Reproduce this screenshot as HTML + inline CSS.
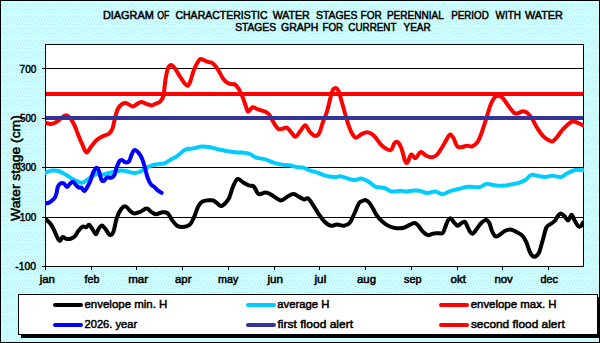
<!DOCTYPE html>
<html><head><meta charset="utf-8"><style>
html,body{margin:0;padding:0;background:#ccffff;}
svg{display:block;font-family:"Liberation Sans", sans-serif;}
</style></head><body>
<svg width="600" height="343" viewBox="0 0 600 343">
<defs><pattern id="dots" x="2" y="2" width="12" height="12" patternUnits="userSpaceOnUse"><rect width="12" height="12" fill="#ccffff"/><rect x="2" y="2" width="1" height="1" fill="#bce5ed"/><rect x="5" y="2" width="1" height="1" fill="#bce5ed"/><rect x="8" y="2" width="1" height="1" fill="#bce5ed"/><rect x="11" y="2" width="1" height="1" fill="#bce5ed"/><rect x="0" y="4" width="1" height="1" fill="#bce5ed"/><rect x="4" y="4" width="1" height="1" fill="#bce5ed"/><rect x="9" y="4" width="1" height="1" fill="#bce5ed"/><rect x="6" y="5" width="1" height="1" fill="#bce5ed"/><rect x="3" y="6" width="1" height="1" fill="#bce5ed"/><rect x="1" y="7" width="1" height="1" fill="#bce5ed"/><rect x="7" y="7" width="1" height="1" fill="#bce5ed"/><rect x="10" y="7" width="1" height="1" fill="#bce5ed"/><rect x="5" y="8" width="1" height="1" fill="#bce5ed"/><rect x="8" y="9" width="1" height="1" fill="#bce5ed"/><rect x="2" y="10" width="1" height="1" fill="#bce5ed"/><rect x="5" y="10" width="1" height="1" fill="#bce5ed"/><rect x="11" y="10" width="1" height="1" fill="#bce5ed"/></pattern></defs>
<rect x="0" y="0" width="600" height="343" fill="url(#dots)"/>
<rect x="0.5" y="0.5" width="599" height="342" fill="none" stroke="#000" stroke-width="1"/>
<rect x="45.5" y="44.5" width="538" height="222" fill="#fff" stroke="#000" stroke-width="1"/>
<line x1="45" y1="68.5" x2="584" y2="68.5" stroke="#000" stroke-width="1"/>
<line x1="45" y1="118.5" x2="584" y2="118.5" stroke="#000" stroke-width="1"/>
<line x1="45" y1="167.5" x2="584" y2="167.5" stroke="#000" stroke-width="1"/>
<line x1="45" y1="217.5" x2="584" y2="217.5" stroke="#000" stroke-width="1"/>
<line x1="42" y1="68.5" x2="45" y2="68.5" stroke="#000" stroke-width="1"/>
<line x1="42" y1="118.5" x2="45" y2="118.5" stroke="#000" stroke-width="1"/>
<line x1="42" y1="167.5" x2="45" y2="167.5" stroke="#000" stroke-width="1"/>
<line x1="42" y1="217.5" x2="45" y2="217.5" stroke="#000" stroke-width="1"/>
<line x1="42" y1="266.5" x2="45" y2="266.5" stroke="#000" stroke-width="1"/>
<line x1="45.5" y1="266" x2="45.5" y2="270" stroke="#000" stroke-width="1"/>
<line x1="91.5" y1="266" x2="91.5" y2="270" stroke="#000" stroke-width="1"/>
<line x1="136.5" y1="266" x2="136.5" y2="270" stroke="#000" stroke-width="1"/>
<line x1="182.5" y1="266" x2="182.5" y2="270" stroke="#000" stroke-width="1"/>
<line x1="228.5" y1="266" x2="228.5" y2="270" stroke="#000" stroke-width="1"/>
<line x1="274.5" y1="266" x2="274.5" y2="270" stroke="#000" stroke-width="1"/>
<line x1="319.5" y1="266" x2="319.5" y2="270" stroke="#000" stroke-width="1"/>
<line x1="365.5" y1="266" x2="365.5" y2="270" stroke="#000" stroke-width="1"/>
<line x1="411.5" y1="266" x2="411.5" y2="270" stroke="#000" stroke-width="1"/>
<line x1="457.5" y1="266" x2="457.5" y2="270" stroke="#000" stroke-width="1"/>
<line x1="502.5" y1="266" x2="502.5" y2="270" stroke="#000" stroke-width="1"/>
<line x1="548.5" y1="266" x2="548.5" y2="270" stroke="#000" stroke-width="1"/>
<clipPath id="pc"><rect x="45" y="44" width="539" height="223"/></clipPath>
<g clip-path="url(#pc)" fill="none" stroke-linejoin="round" stroke-linecap="round">
<path d="M45.5,172.7 C46.6,172.3 50.1,170.9 52.2,170.6 C54.4,170.3 56.1,170.3 58.4,171.0 C60.7,171.7 63.6,173.5 65.8,174.7 C68.0,175.9 69.6,177.3 71.6,178.4 C73.5,179.5 75.8,180.6 77.5,181.3 C79.2,182.0 80.3,182.9 81.8,182.8 C83.2,182.7 84.6,181.6 86.2,180.6 C87.8,179.6 89.6,178.0 91.3,176.9 C93.0,175.8 94.6,174.4 96.4,174.0 C98.2,173.6 100.3,174.8 102.2,174.7 C104.1,174.6 105.8,173.8 108.0,173.3 C110.2,172.8 113.0,171.9 115.2,171.5 C117.4,171.1 119.4,170.6 121.4,170.6 C123.5,170.6 125.5,171.1 127.5,171.5 C129.5,171.9 131.6,172.8 133.6,172.9 C135.6,173.0 137.7,172.8 139.7,172.0 C141.7,171.2 143.8,169.1 145.8,168.0 C147.9,166.9 149.8,166.0 152.0,165.3 C154.2,164.7 156.9,164.4 159.0,164.1 C161.1,163.8 162.4,164.1 164.3,163.4 C166.2,162.7 168.3,160.9 170.5,159.7 C172.7,158.4 175.0,157.6 177.5,155.9 C180.0,154.2 182.7,150.8 185.3,149.6 C187.9,148.3 190.4,148.9 193.2,148.4 C196.0,147.9 199.4,146.8 202.0,146.6 C204.6,146.4 206.4,146.7 209.0,147.1 C211.6,147.5 214.8,148.5 217.7,149.2 C220.6,149.8 223.5,150.5 226.4,151.0 C229.3,151.5 232.5,152.0 235.1,152.3 C237.7,152.6 239.7,152.4 242.0,152.6 C244.3,152.8 246.7,152.8 249.0,153.6 C251.3,154.4 253.4,156.6 256.0,157.5 C258.6,158.4 261.8,158.3 264.7,159.2 C267.6,160.1 270.6,161.8 273.5,162.7 C276.4,163.6 279.6,164.4 282.2,164.8 C284.8,165.2 286.9,164.9 289.2,165.3 C291.5,165.7 293.9,166.7 296.2,167.1 C298.5,167.5 300.8,167.0 303.2,167.6 C305.6,168.2 308.0,169.8 310.4,170.6 C312.8,171.4 314.9,171.8 317.5,172.7 C320.1,173.6 323.3,175.2 326.2,175.9 C329.1,176.6 332.7,177.1 335.0,177.1 C337.3,177.1 338.2,176.0 340.2,176.2 C342.2,176.4 344.9,177.7 347.2,178.3 C349.5,179.0 351.9,180.1 354.2,180.1 C356.5,180.1 358.9,178.3 361.2,178.5 C363.5,178.7 365.8,180.1 368.2,181.5 C370.6,182.9 373.4,185.7 375.3,186.7 C377.2,187.7 377.7,187.1 379.3,187.3 C380.9,187.5 382.8,187.3 384.7,188.0 C386.6,188.7 388.7,190.8 390.7,191.3 C392.7,191.9 395.0,191.4 396.7,191.3 C398.4,191.2 399.1,190.6 400.7,190.7 C402.2,190.8 404.2,191.6 406.0,191.6 C407.8,191.6 409.1,190.8 411.3,190.7 C413.5,190.5 416.6,190.3 419.3,190.7 C422.0,191.1 424.6,192.8 427.3,193.0 C430.0,193.2 432.7,191.4 435.3,191.6 C437.9,191.8 440.4,194.4 442.7,194.3 C445.0,194.2 446.6,192.2 449.3,191.3 C452.0,190.4 455.5,189.8 458.6,189.0 C461.7,188.2 464.5,187.0 468.0,186.7 C471.5,186.4 476.5,187.6 479.6,187.1 C482.7,186.6 483.9,184.2 486.6,183.9 C489.3,183.6 492.9,185.2 496.0,185.5 C499.1,185.8 502.4,185.6 505.0,185.4 C507.6,185.2 509.5,184.7 511.7,184.3 C513.9,183.9 516.1,183.7 518.3,183.0 C520.5,182.3 522.9,181.6 525.0,180.3 C527.1,179.0 529.0,175.8 531.0,175.0 C533.0,174.2 534.7,175.4 537.0,175.7 C539.3,176.0 542.5,177.0 545.0,177.0 C547.5,177.0 549.6,175.7 552.3,175.7 C555.0,175.7 558.4,177.4 561.0,177.0 C563.6,176.6 565.2,174.2 567.7,173.0 C570.2,171.8 573.2,170.4 575.7,170.0 C578.2,169.6 581.8,170.2 583.0,170.3" stroke="#00ccff" stroke-width="4"/>
<path d="M45.5,219.0 C46.3,219.8 49.1,222.0 50.5,223.8 C51.9,225.6 52.8,227.7 54.0,230.0 C55.2,232.3 56.5,236.0 57.5,237.8 C58.5,239.6 59.2,240.9 60.1,240.8 C61.0,240.7 61.7,237.3 62.7,237.0 C63.7,236.7 64.9,238.4 66.2,238.7 C67.5,239.0 69.1,239.1 70.6,238.7 C72.1,238.3 73.7,237.4 75.0,236.1 C76.3,234.8 77.2,232.4 78.5,230.8 C79.8,229.2 81.5,227.1 82.8,226.5 C84.1,225.9 85.3,227.6 86.3,227.3 C87.3,227.0 88.0,224.4 89.0,224.7 C90.0,225.0 91.2,227.5 92.4,229.1 C93.6,230.7 94.9,234.3 95.9,234.3 C96.9,234.3 97.5,230.6 98.5,229.1 C99.5,227.6 100.8,225.6 102.0,225.6 C103.2,225.6 104.2,227.5 105.5,229.1 C106.8,230.7 108.6,234.5 109.9,234.9 C111.2,235.3 112.2,234.6 113.4,231.7 C114.6,228.8 115.6,221.5 116.9,217.7 C118.2,213.9 119.8,210.9 121.2,209.0 C122.7,207.1 124.1,206.1 125.6,206.4 C127.1,206.7 128.6,209.5 130.0,210.7 C131.4,211.9 132.7,213.2 134.3,213.4 C135.9,213.6 137.6,212.9 139.6,212.1 C141.6,211.3 144.7,208.7 146.6,208.6 C148.5,208.5 149.5,210.6 151.0,211.6 C152.5,212.6 154.0,214.2 155.8,214.3 C157.6,214.4 159.8,212.6 161.7,212.4 C163.6,212.2 165.8,211.8 167.5,213.1 C169.2,214.4 170.5,218.0 172.1,220.1 C173.7,222.2 175.1,224.3 176.8,225.5 C178.6,226.7 180.5,227.2 182.6,227.1 C184.7,227.0 187.6,226.6 189.6,224.8 C191.6,223.1 192.9,219.5 194.3,216.6 C195.7,213.7 196.5,209.8 197.8,207.3 C199.2,204.8 200.1,202.7 202.4,201.5 C204.7,200.3 209.5,200.1 211.8,200.3 C214.1,200.5 214.9,201.6 216.4,202.6 C217.9,203.6 219.5,206.1 221.1,206.1 C222.7,206.1 224.4,204.0 225.8,202.6 C227.2,201.2 228.1,200.2 229.3,197.6 C230.5,195.0 231.4,190.2 232.8,187.1 C234.2,184.0 235.8,179.8 237.5,179.0 C239.2,178.2 241.4,181.4 243.3,182.5 C245.2,183.6 247.3,184.8 249.1,185.5 C250.8,186.2 252.2,185.0 253.8,186.4 C255.4,187.8 256.6,193.1 258.5,194.1 C260.4,195.1 263.4,192.4 265.5,192.5 C267.6,192.6 268.8,193.5 271.3,194.8 C273.8,196.1 277.9,200.1 280.6,200.4 C283.3,200.7 285.5,197.6 287.6,196.5 C289.7,195.4 291.4,194.0 293.4,194.1 C295.4,194.2 297.9,196.2 299.7,197.1 C301.5,198.0 302.9,199.3 304.3,199.5 C305.7,199.7 306.4,197.5 307.8,198.3 C309.2,199.1 310.8,201.6 312.5,204.1 C314.2,206.6 316.4,210.7 318.3,213.5 C320.2,216.3 322.0,219.1 324.1,221.2 C326.2,223.2 329.0,225.3 331.1,225.8 C333.2,226.3 334.9,224.4 337.0,224.4 C339.1,224.4 341.9,226.1 344.0,225.8 C346.1,225.5 348.1,224.9 349.8,222.8 C351.5,220.8 352.8,216.8 354.4,213.5 C355.9,210.2 357.7,205.1 359.1,203.0 C360.5,200.9 361.8,201.3 362.9,200.8 C364.0,200.3 364.7,199.7 365.8,200.1 C366.9,200.5 368.3,201.6 369.5,203.0 C370.7,204.4 371.9,206.7 373.1,208.8 C374.3,210.9 375.3,213.3 376.8,215.4 C378.3,217.5 379.8,219.4 381.9,221.2 C384.0,223.0 386.8,225.1 389.2,226.3 C391.6,227.5 394.0,227.9 396.4,228.2 C398.8,228.4 401.5,228.4 403.7,227.8 C405.9,227.2 407.8,225.7 409.6,224.9 C411.4,224.1 413.2,222.9 414.7,223.0 C416.1,223.1 417.0,224.2 418.3,225.6 C419.6,227.0 421.1,229.8 422.7,231.4 C424.3,233.0 426.1,234.7 427.8,235.1 C429.5,235.5 431.3,233.9 432.9,233.6 C434.5,233.3 435.7,233.3 437.3,233.2 C438.9,233.1 441.4,234.0 442.7,233.0 C444.0,232.0 444.4,229.1 445.3,227.0 C446.2,224.9 447.1,221.8 448.0,220.3 C448.9,218.9 449.7,218.0 450.7,218.3 C451.7,218.6 452.9,221.1 454.0,222.3 C455.1,223.5 456.2,225.5 457.3,225.7 C458.4,225.9 459.5,224.4 460.7,223.7 C461.9,223.0 463.6,221.3 464.7,221.7 C465.8,222.1 466.4,224.6 467.3,226.3 C468.2,228.0 469.1,230.5 470.0,231.7 C470.9,232.9 471.6,234.1 472.7,233.7 C473.8,233.2 475.3,230.8 476.7,229.0 C478.1,227.2 479.8,224.5 481.3,223.0 C482.9,221.5 484.7,220.0 486.0,220.0 C487.3,220.0 488.3,221.2 489.3,223.0 C490.3,224.8 491.0,228.8 492.0,231.0 C493.0,233.2 494.1,235.6 495.3,236.3 C496.5,237.0 497.7,235.9 499.3,235.0 C500.9,234.1 502.9,231.9 504.7,231.0 C506.5,230.1 508.5,229.3 510.4,229.4 C512.3,229.5 514.0,230.7 516.1,231.8 C518.2,232.9 521.0,234.2 522.7,236.0 C524.4,237.8 525.2,239.8 526.5,242.6 C527.8,245.4 529.0,250.6 530.3,253.0 C531.6,255.4 532.7,256.8 534.1,256.8 C535.5,256.8 537.4,255.7 538.8,253.0 C540.2,250.3 541.3,244.9 542.6,240.7 C543.9,236.4 545.0,230.3 546.4,227.5 C547.8,224.7 549.7,224.8 551.1,223.7 C552.5,222.6 553.8,222.1 554.9,220.8 C556.0,219.5 556.8,217.3 557.8,216.1 C558.8,214.9 559.5,213.6 560.6,213.6 C561.7,213.6 563.1,214.9 564.4,216.1 C565.7,217.2 567.0,220.7 568.2,220.5 C569.4,220.3 570.5,214.8 571.6,214.8 C572.7,214.9 573.6,218.9 574.8,220.8 C576.0,222.8 577.5,225.7 578.6,226.5 C579.7,227.3 580.7,226.3 581.4,225.6 C582.1,224.9 582.7,223.0 583.0,222.5" stroke="#000" stroke-width="4"/>
<path d="M45.5,122.5 C46.3,122.8 48.8,124.1 50.5,124.1 C52.2,124.1 54.0,123.4 55.7,122.4 C57.5,121.5 59.4,119.6 61.0,118.4 C62.6,117.2 63.8,115.6 65.3,115.4 C66.8,115.2 68.2,116.0 69.7,117.5 C71.2,119.0 72.8,121.9 74.1,124.5 C75.4,127.1 76.3,130.0 77.6,133.2 C78.9,136.4 80.5,140.5 82.0,143.7 C83.5,146.9 84.8,151.8 86.3,152.4 C87.8,153.0 89.2,149.0 90.7,147.2 C92.2,145.4 93.6,143.1 95.1,141.6 C96.5,140.1 98.0,139.1 99.4,138.1 C100.8,137.1 102.1,136.5 103.7,135.8 C105.3,135.1 107.5,134.9 109.0,133.7 C110.5,132.5 111.5,131.1 112.5,128.5 C113.5,125.9 114.2,121.2 115.1,118.0 C116.0,114.8 116.5,111.5 117.7,109.2 C118.9,106.9 120.6,105.0 122.1,104.0 C123.6,103.0 124.8,102.7 126.5,103.1 C128.2,103.5 130.8,106.4 132.6,106.6 C134.3,106.8 135.6,104.8 137.0,104.0 C138.4,103.2 139.7,101.9 141.3,101.9 C142.9,101.9 144.8,103.4 146.6,104.0 C148.3,104.6 150.4,105.4 151.8,105.4 C153.2,105.4 153.8,104.5 155.0,104.0 C156.2,103.5 158.1,103.0 159.1,102.4 C160.1,101.8 160.3,101.7 161.0,100.5 C161.7,99.3 162.8,98.7 163.5,95.5 C164.2,92.3 164.5,86.0 165.2,81.5 C165.9,77.0 166.9,71.2 167.9,68.4 C168.9,65.6 170.2,64.9 171.4,64.9 C172.6,64.9 173.6,66.7 174.9,68.4 C176.2,70.1 177.6,72.8 179.2,75.3 C180.8,77.8 183.0,81.5 184.5,83.2 C186.0,85.0 187.0,86.2 188.0,85.8 C189.0,85.4 189.7,82.9 190.6,80.6 C191.5,78.3 192.2,74.7 193.2,71.9 C194.2,69.1 195.5,66.1 196.7,64.0 C197.9,61.9 199.0,59.8 200.2,59.1 C201.4,58.5 202.4,59.6 203.7,60.1 C205.0,60.6 206.8,61.5 208.1,61.9 C209.4,62.3 210.4,62.0 211.6,62.6 C212.8,63.2 213.9,64.4 215.1,65.7 C216.2,67.0 217.2,68.4 218.5,70.5 C219.8,72.6 221.5,76.4 222.9,78.4 C224.3,80.4 225.8,81.8 227.2,82.7 C228.6,83.7 230.3,83.8 231.6,84.1 C232.9,84.4 233.9,83.7 235.1,84.5 C236.3,85.3 237.4,86.9 238.6,88.8 C239.8,90.7 240.9,93.0 242.1,95.8 C243.3,98.6 244.6,102.9 245.6,105.5 C246.6,108.1 247.0,111.3 248.2,111.6 C249.4,111.9 251.1,107.6 252.6,107.2 C254.1,106.8 255.4,108.4 257.0,109.0 C258.6,109.6 260.6,110.1 262.2,110.7 C263.8,111.3 265.4,111.7 266.6,112.4 C267.8,113.1 268.2,113.2 269.4,114.9 C270.6,116.6 272.2,120.4 273.7,122.7 C275.1,125.0 276.6,127.8 278.1,128.8 C279.6,129.8 281.0,129.0 282.5,128.8 C284.0,128.6 285.4,127.0 286.9,127.6 C288.3,128.2 289.8,130.8 291.2,132.3 C292.6,133.8 294.1,136.8 295.6,136.7 C297.1,136.6 298.4,133.4 300.0,131.5 C301.6,129.6 303.6,125.3 305.2,125.3 C306.8,125.3 308.0,129.8 309.6,131.5 C311.2,133.2 313.2,135.5 314.8,135.8 C316.4,136.1 317.9,135.4 319.2,133.2 C320.5,131.0 321.4,126.3 322.7,122.7 C324.0,119.1 325.7,115.7 327.0,111.5 C328.3,107.3 329.5,101.2 330.5,97.5 C331.5,93.8 332.2,91.2 333.1,89.6 C334.0,88.0 334.8,87.8 335.7,87.9 C336.6,88.1 337.5,88.6 338.4,90.5 C339.3,92.4 340.0,95.7 341.0,99.2 C342.0,102.7 343.3,107.4 344.5,111.5 C345.7,115.6 346.8,120.2 348.0,123.7 C349.2,127.2 350.2,130.1 351.5,132.4 C352.8,134.7 354.1,137.5 355.8,137.7 C357.6,137.9 359.9,134.7 362.0,133.8 C364.1,132.9 366.1,132.1 368.1,132.4 C370.1,132.8 372.1,134.0 374.2,135.9 C376.3,137.8 378.6,142.0 380.5,144.1 C382.4,146.2 383.9,147.5 385.7,148.5 C387.4,149.5 389.5,150.8 391.0,149.9 C392.5,149.0 393.3,144.5 394.5,143.2 C395.7,141.9 396.8,141.4 398.0,142.3 C399.2,143.2 400.3,145.4 401.5,148.5 C402.7,151.6 404.0,158.4 405.0,160.7 C406.0,163.0 406.6,163.4 407.6,162.4 C408.6,161.4 409.8,155.3 411.1,154.6 C412.4,153.9 413.9,158.5 415.5,158.1 C417.1,157.7 419.0,152.4 420.7,152.0 C422.4,151.6 424.0,154.6 425.9,155.5 C427.8,156.4 430.1,157.3 432.0,157.2 C433.9,157.0 435.4,156.3 437.2,154.6 C438.9,152.8 440.9,149.3 442.5,146.7 C444.1,144.1 445.6,140.8 446.9,138.8 C448.2,136.8 449.1,134.5 450.3,134.5 C451.5,134.5 452.6,136.8 453.8,138.8 C455.0,140.8 456.0,145.0 457.3,146.4 C458.6,147.8 460.1,147.2 461.7,147.1 C463.3,147.0 465.2,145.9 467.0,145.8 C468.8,145.7 470.5,147.0 472.2,146.4 C473.9,145.8 475.9,144.3 477.4,142.3 C478.9,140.3 480.0,137.1 481.0,134.5 C482.0,131.9 482.6,129.7 483.5,127.0 C484.4,124.3 485.2,122.0 486.4,118.2 C487.6,114.5 489.3,108.0 490.7,104.5 C492.1,101.0 493.2,99.0 494.5,97.5 C495.8,96.0 497.1,95.7 498.5,95.8 C499.9,95.9 501.0,96.3 502.8,98.2 C504.6,100.1 507.2,104.4 509.1,106.9 C511.0,109.4 512.7,112.0 514.3,113.0 C515.9,114.0 517.2,113.3 518.7,113.0 C520.2,112.7 521.7,111.2 523.1,111.2 C524.5,111.2 526.0,111.8 527.4,113.0 C528.8,114.2 530.0,115.5 531.8,118.2 C533.5,120.9 536.0,126.1 537.9,129.1 C539.8,132.1 541.4,134.3 543.1,136.1 C544.9,137.9 546.8,139.2 548.4,140.1 C550.0,141.0 551.2,141.8 552.7,141.3 C554.2,140.8 555.5,138.9 557.1,137.0 C558.7,135.1 560.5,132.1 562.3,130.0 C564.0,128.0 565.9,126.2 567.6,124.7 C569.4,123.2 571.2,121.6 572.8,121.2 C574.4,120.8 575.5,121.9 577.2,122.6 C578.9,123.3 582.0,124.8 583.0,125.3" stroke="#ff0000" stroke-width="4"/>
<line x1="46" y1="94" x2="583" y2="94" stroke="#ff0000" stroke-width="4" stroke-linecap="butt"/>
<line x1="46" y1="118" x2="583" y2="118" stroke="#333399" stroke-width="4" stroke-linecap="butt"/>
<path d="M45.5,203.5 C46.1,203.3 47.9,203.1 49.0,202.6 C50.1,202.1 50.9,201.4 51.9,200.6 C52.9,199.8 54.0,199.0 54.8,197.7 C55.6,196.4 56.1,194.8 56.6,193.0 C57.1,191.2 57.1,188.8 57.7,187.2 C58.3,185.6 59.1,184.3 60.1,183.7 C61.1,183.1 62.4,182.9 63.6,183.4 C64.8,183.9 66.0,186.9 67.1,186.9 C68.2,186.9 69.0,184.5 70.0,183.7 C71.0,182.9 71.8,181.6 72.9,181.9 C74.0,182.2 75.3,184.4 76.4,185.4 C77.5,186.4 78.5,187.3 79.3,187.7 C80.1,188.1 80.7,187.1 81.5,187.7 C82.3,188.3 83.4,191.3 84.4,191.2 C85.4,191.1 86.3,188.8 87.3,187.1 C88.3,185.4 89.2,183.6 90.2,181.2 C91.2,178.8 92.1,174.7 93.2,172.5 C94.3,170.3 95.7,168.0 96.7,167.8 C97.7,167.6 98.2,169.4 99.0,171.3 C99.8,173.2 100.5,177.9 101.3,179.5 C102.1,181.1 102.7,181.3 103.7,181.0 C104.7,180.7 106.0,178.0 107.2,177.4 C108.4,176.8 109.5,178.0 110.7,177.7 C111.9,177.4 113.2,177.1 114.2,175.4 C115.2,173.8 115.6,170.2 116.5,167.8 C117.4,165.4 118.6,162.3 119.6,161.0 C120.5,159.7 121.2,159.9 122.2,160.1 C123.2,160.3 124.5,162.2 125.7,162.4 C126.9,162.6 128.2,162.4 129.2,161.0 C130.2,159.6 131.0,155.8 131.9,154.0 C132.8,152.2 133.3,150.2 134.5,150.1 C135.7,149.9 137.5,151.6 138.8,153.1 C140.1,154.6 141.3,156.7 142.3,159.2 C143.3,161.7 144.1,164.9 145.0,168.0 C145.9,171.1 146.6,174.8 147.6,177.6 C148.6,180.4 149.9,183.0 151.1,184.6 C152.3,186.2 153.4,186.2 154.6,187.2 C155.8,188.2 156.9,189.8 158.1,190.7 C159.3,191.6 161.0,192.5 161.6,192.8" stroke="#0000ff" stroke-width="4"/>
</g>
<rect x="21" y="297" width="579" height="41" fill="#000"/>
<rect x="18.5" y="294.5" width="579" height="40" fill="#fff" stroke="#000" stroke-width="1"/>
<line x1="55" y1="305" x2="81" y2="305" stroke="#000" stroke-width="4" stroke-linecap="round"/>
<line x1="55" y1="325" x2="81" y2="325" stroke="#0000ff" stroke-width="4" stroke-linecap="round"/>
<line x1="248" y1="305" x2="274" y2="305" stroke="#00ccff" stroke-width="4" stroke-linecap="round"/>
<line x1="248" y1="325" x2="274" y2="325" stroke="#333399" stroke-width="4" stroke-linecap="round"/>
<line x1="441" y1="305" x2="467" y2="305" stroke="#ff0000" stroke-width="4" stroke-linecap="round"/>
<line x1="441" y1="325" x2="467" y2="325" stroke="#ff0000" stroke-width="4" stroke-linecap="round"/>
<text transform="matrix(0.9920,0,0,1,102.96,19)" font-size="11" font-weight="normal" stroke="#000" stroke-width="0.5" style="white-space:pre">DIAGRAM</text>
<text transform="matrix(0.7932,0,0,1,157.30,19)" font-size="11" font-weight="normal" stroke="#000" stroke-width="0.5" style="white-space:pre">OF</text>
<text transform="matrix(0.9548,0,0,1,175.46,19)" font-size="11" font-weight="normal" stroke="#000" stroke-width="0.5" style="white-space:pre">CHARACTERISTIC</text>
<text transform="matrix(0.9652,0,0,1,272.64,19)" font-size="11" font-weight="normal" stroke="#000" stroke-width="0.5" style="white-space:pre">WATER</text>
<text transform="matrix(0.9457,0,0,1,316.06,19)" font-size="11" font-weight="normal" stroke="#000" stroke-width="0.5" style="white-space:pre">STAGES</text>
<text transform="matrix(0.9169,0,0,1,360.51,19)" font-size="11" font-weight="normal" stroke="#000" stroke-width="0.5" style="white-space:pre">FOR</text>
<text transform="matrix(0.9122,0,0,1,386.92,19)" font-size="11" font-weight="normal" stroke="#000" stroke-width="0.5" style="white-space:pre">PERENNIAL</text>
<text transform="matrix(0.8921,0,0,1,451.23,19)" font-size="11" font-weight="normal" stroke="#000" stroke-width="0.5" style="white-space:pre">PERIOD</text>
<text transform="matrix(0.9045,0,0,1,495.53,19)" font-size="11" font-weight="normal" stroke="#000" stroke-width="0.5" style="white-space:pre">WITH</text>
<text transform="matrix(0.9832,0,0,1,524.95,19)" font-size="11" font-weight="normal" stroke="#000" stroke-width="0.5" style="white-space:pre">WATER</text>
<text transform="matrix(0.9341,0,0,1,235.17,31)" font-size="11" font-weight="normal" stroke="#000" stroke-width="0.5" style="white-space:pre">STAGES</text>
<text transform="matrix(0.9542,0,0,1,281.06,31)" font-size="11" font-weight="normal" stroke="#000" stroke-width="0.5" style="white-space:pre">GRAPH</text>
<text transform="matrix(0.8854,0,0,1,322.44,31)" font-size="11" font-weight="normal" stroke="#000" stroke-width="0.5" style="white-space:pre">FOR</text>
<text transform="matrix(0.8972,0,0,1,348.28,31)" font-size="11" font-weight="normal" stroke="#000" stroke-width="0.5" style="white-space:pre">CURRENT</text>
<text transform="matrix(0.9076,0,0,1,403.50,31)" font-size="11" font-weight="normal" stroke="#000" stroke-width="0.5" style="white-space:pre">YEAR</text>
<text transform="matrix(0.9909,0,0,1,84.45,307.5)" font-size="11.6" font-weight="normal" stroke="#000" stroke-width="0.5" style="white-space:pre">envelope min. H</text>
<text transform="matrix(0.9644,0,0,1,84.46,327.5)" font-size="11.6" font-weight="normal" stroke="#000" stroke-width="0.5" style="white-space:pre">2026. year</text>
<text transform="matrix(0.9752,0,0,1,277.26,307.5)" font-size="11.6" font-weight="normal" stroke="#000" stroke-width="0.5" style="white-space:pre">average H</text>
<text transform="matrix(1.0384,0,0,1,277.50,327.5)" font-size="11.6" font-weight="normal" stroke="#000" stroke-width="0.5" style="white-space:pre">first flood alert</text>
<text transform="matrix(0.9872,0,0,1,470.65,307.5)" font-size="11.6" font-weight="normal" stroke="#000" stroke-width="0.5" style="white-space:pre">envelope max. H</text>
<text transform="matrix(1.0256,0,0,1,470.90,327.5)" font-size="11.6" font-weight="normal" stroke="#000" stroke-width="0.5" style="white-space:pre">second flood alert</text>
<text transform="matrix(0.9111,0,0,1,19.57,73)" font-size="11" font-weight="normal" stroke="#000" stroke-width="0.5" style="white-space:pre">700</text>
<text transform="matrix(0.8889,0,0,1,19.98,122)" font-size="11" font-weight="normal" stroke="#000" stroke-width="0.5" style="white-space:pre">500</text>
<text transform="matrix(0.8889,0,0,1,19.98,171)" font-size="11" font-weight="normal" stroke="#000" stroke-width="0.5" style="white-space:pre">300</text>
<text transform="matrix(0.9014,0,0,1,19.75,221)" font-size="11" font-weight="normal" stroke="#000" stroke-width="0.5" style="white-space:pre">100</text>
<text transform="matrix(0.9442,0,0,1,15.26,270)" font-size="11" font-weight="normal" stroke="#000" stroke-width="0.5" style="white-space:pre">-100</text>
<text transform="matrix(1.0667,0,0,1,39.63,283)" font-size="10.67" font-weight="normal" stroke="#000" stroke-width="0.5" style="white-space:pre">jan</text>
<text transform="matrix(0.9898,0,0,1,84.60,283)" font-size="10.67" font-weight="normal" stroke="#000" stroke-width="0.5" style="white-space:pre">feb</text>
<text transform="matrix(1.0833,0,0,1,128.16,283)" font-size="10.67" font-weight="normal" stroke="#000" stroke-width="0.5" style="white-space:pre">mar</text>
<text transform="matrix(1.0623,0,0,1,175.03,283)" font-size="10.67" font-weight="normal" stroke="#000" stroke-width="0.5" style="white-space:pre">apr</text>
<text transform="matrix(1.0050,0,0,1,218.10,283)" font-size="10.67" font-weight="normal" stroke="#000" stroke-width="0.5" style="white-space:pre">may</text>
<text transform="matrix(1.0947,0,0,1,267.45,283)" font-size="10.67" font-weight="normal" stroke="#000" stroke-width="0.5" style="white-space:pre">jun</text>
<text transform="matrix(1.1070,0,0,1,314.45,283)" font-size="10.67" font-weight="normal" stroke="#000" stroke-width="0.5" style="white-space:pre">jul</text>
<text transform="matrix(1.0667,0,0,1,357.03,283)" font-size="10.67" font-weight="normal" stroke="#000" stroke-width="0.5" style="white-space:pre">aug</text>
<text transform="matrix(1.0176,0,0,1,404.10,283)" font-size="10.67" font-weight="normal" stroke="#000" stroke-width="0.5" style="white-space:pre">sep</text>
<text transform="matrix(1.0947,0,0,1,450.43,283)" font-size="10.67" font-weight="normal" stroke="#000" stroke-width="0.5" style="white-space:pre">okt</text>
<text transform="matrix(1.0588,0,0,1,494.57,283)" font-size="10.67" font-weight="normal" stroke="#000" stroke-width="0.5" style="white-space:pre">nov</text>
<text transform="matrix(1.0176,0,0,1,540.45,283)" font-size="10.67" font-weight="normal" stroke="#000" stroke-width="0.5" style="white-space:pre">dec</text>
<text transform="translate(20.0,220.92) rotate(-90) scale(1.1084,1)" font-size="12.5" font-weight="normal" stroke="#000" stroke-width="0.5">Water stage (cm)</text>
</svg>
</body></html>
